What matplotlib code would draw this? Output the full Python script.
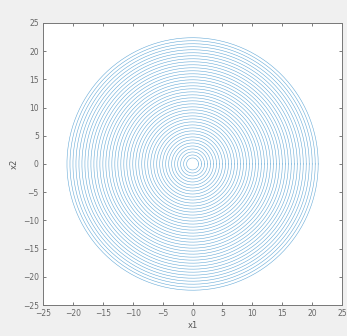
import numpy as np
import matplotlib
matplotlib.use("Agg")
import matplotlib.pyplot as plt

# ring radii (x1 direction)
radii = [1.0, 1.5, 2.0, 2.5, 3.0, 3.5, 4.0, 4.5, 5.0, 5.5,
         6.0, 6.5, 7.0, 7.5, 8.0, 8.5, 9.0, 9.5, 10.0, 10.5,
         11.0, 11.5, 12.0, 12.5, 13.0, 13.5, 14.0, 14.5, 15.0, 15.5,
         16.0, 16.5, 17.0, 17.5, 18.0, 18.5, 19.0, 19.5, 20.0, 20.5, 21.0]
y_stretch = 1.065   # rings are a bit taller than wide in data units
ticks = [-25, -20, -15, -10, -5, 0, 5, 10, 15, 20, 25]

fig = plt.figure(figsize=(3.47, 3.36), dpi=100, facecolor='#f0f0f0')
ax = fig.add_axes([0.124, 0.092, 0.862, 0.840])
ax.set_facecolor('white')

th = np.linspace(0, 2*np.pi, 400)
for r in radii:
    ax.plot(r*np.cos(th), y_stretch*r*np.sin(th), color='#0072bd', lw=0.4, alpha=0.6)

ax.set_xlim(-25, 25)
ax.set_ylim(-25, 25)
ax.set_xticks(ticks)
ax.set_yticks(ticks)
ax.tick_params(direction='in', length=2.5, width=0.6, labelsize=5.5,
               colors='#666666', top=True, right=True, pad=3)
for s in ax.spines.values():
    s.set_color('#777777')
    s.set_linewidth(0.7)
ax.set_xlabel('x1', fontsize=6, color='#555555', labelpad=2)
ax.set_ylabel('x2', fontsize=6, color='#555555', labelpad=3)

fig.savefig('out.png', dpi=100, facecolor=fig.get_facecolor())
